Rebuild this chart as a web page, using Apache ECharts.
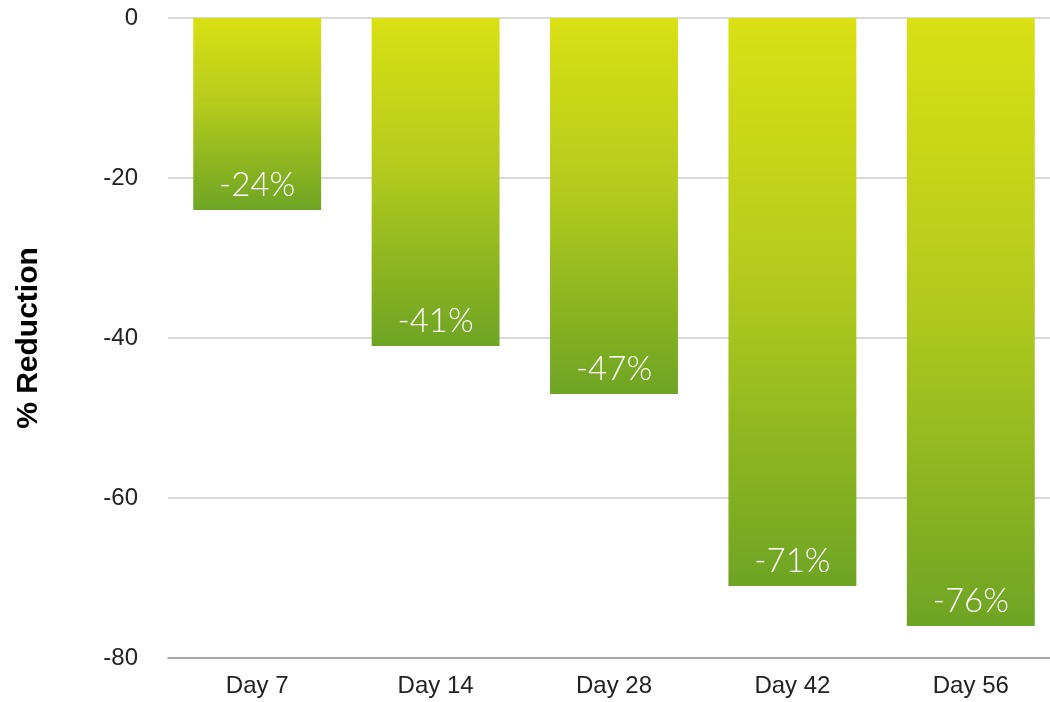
<!DOCTYPE html>
<html>
<head>
<meta charset="utf-8">
<script src="https://cdn.jsdelivr.net/npm/echarts@6/dist/echarts.min.js"></script>
<style>
  html, body { margin: 0; padding: 0; background: #fff; }
  #chart { width: 1050px; height: 702px; }
</style>
</head>
<body>
<div id="chart"></div>
<script>
const days = ['Day 7', 'Day 14', 'Day 28', 'Day 42', 'Day 56']
const reduction = [-24, -41, -47, -71, -76]

const chart = echarts.init(document.getElementById('chart'))

chart.setOption({
  backgroundColor: '#fff',
  animation: false,
  // category band runs slightly past the right edge in the original
  grid: { left: 168, right: -10, top: 18, bottom: 44, outerBoundsMode: 'none', containLabel: false },
  xAxis: {
    type: 'category',
    data: days,
    position: 'bottom',
    axisLine: { onZero: false, lineStyle: { color: '#9a9a9a', width: 1.5 } },
    axisTick: { show: false },
    axisLabel: {
      color: '#222',
      fontSize: 24,
      fontFamily: 'Liberation Sans',
      margin: 16
    }
  },
  yAxis: {
    type: 'value',
    min: -80,
    max: 0,
    interval: 20,
    name: '% Reduction',
    nameLocation: 'middle',
    nameRotate: 90,
    nameGap: 124,
    nameTextStyle: {
      color: '#000',
      fontSize: 30,
      fontWeight: 'bold',
      fontFamily: 'Liberation Sans'
    },
    axisLine: { show: false },
    axisTick: { show: false },
    axisLabel: {
      color: '#222',
      fontSize: 24,
      fontFamily: 'Liberation Sans',
      margin: 30
    },
    splitLine: { lineStyle: { color: '#cccccc', width: 1.5 } }
  },
  series: [
    {
      type: 'bar',
      data: reduction,
      barWidth: '71.7%',
      itemStyle: {
        color: new echarts.graphic.LinearGradient(0, 0, 0, 1, [
          { offset: 0, color: '#dae013' },
          { offset: 0.45, color: '#b4cb1d' },
          { offset: 1, color: '#6ea424' }
        ])
      },
      label: {
        show: true,
        position: 'insideBottom',
        distance: 8,
        color: '#fff',
        fontSize: 33,
        fontWeight: 300,
        fontFamily: 'Lato, Roboto, sans-serif',
        formatter: (p) => p.value + '%'
      }
    }
  ]
})
</script>
</body>
</html>
